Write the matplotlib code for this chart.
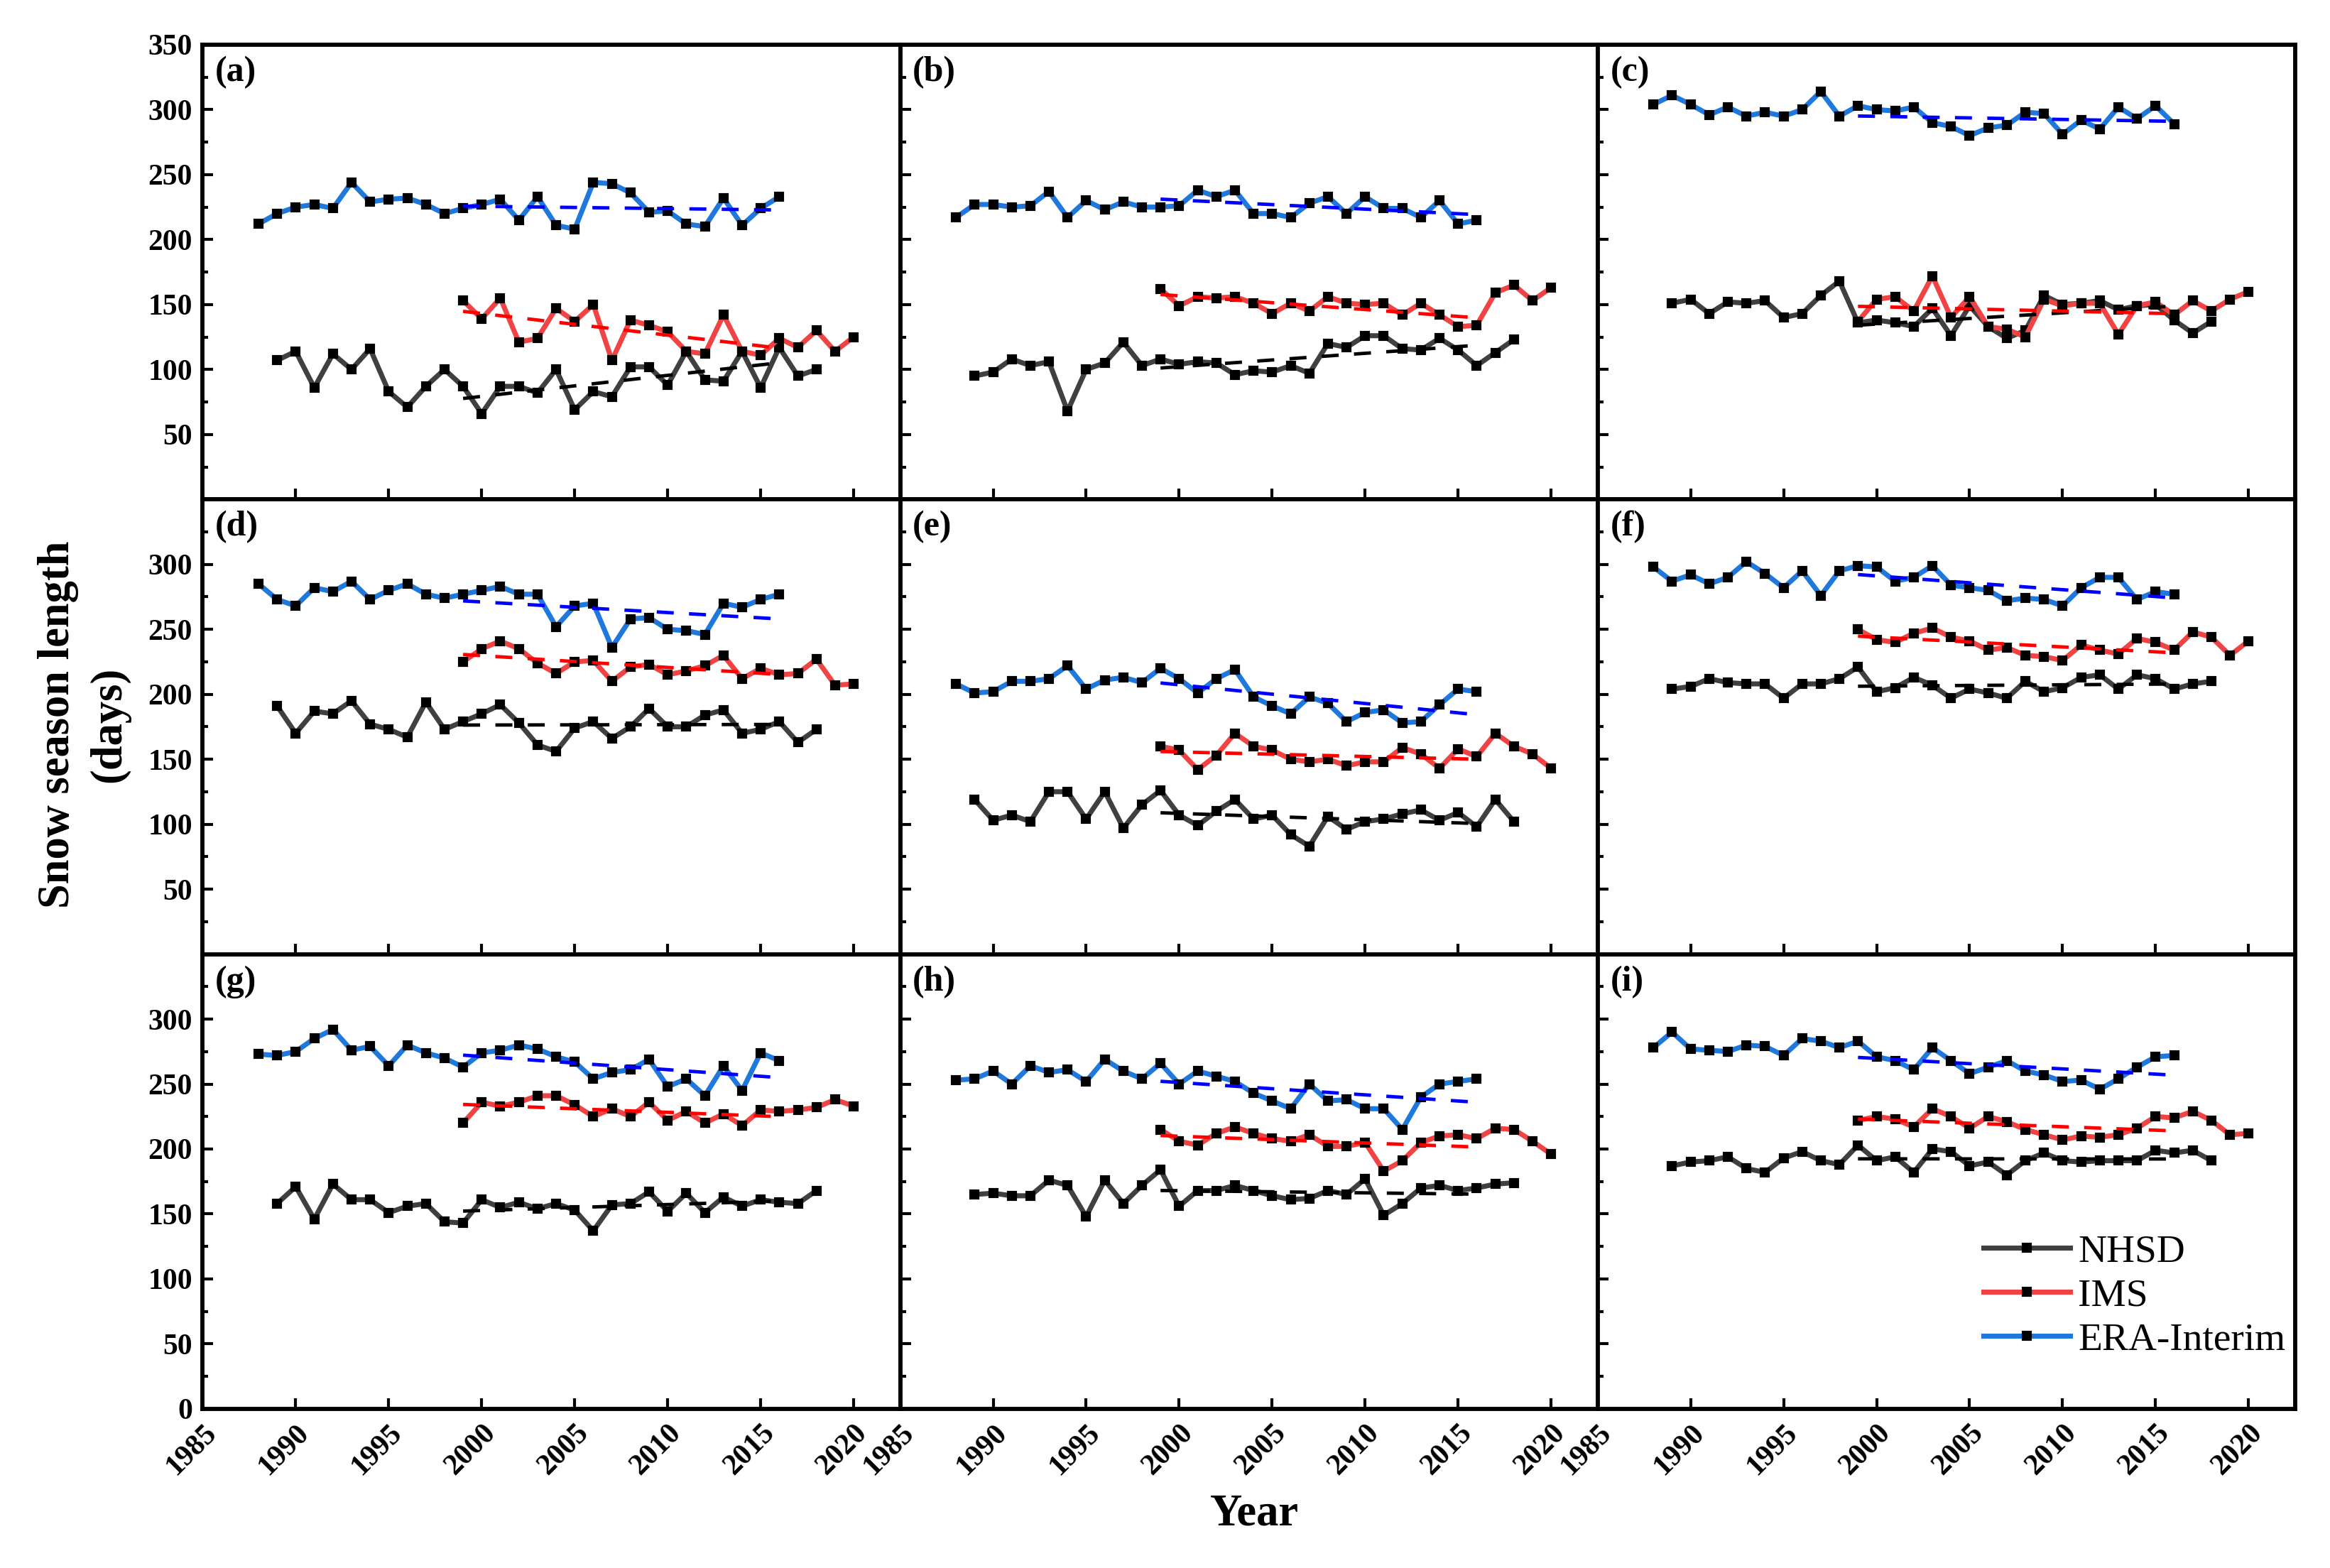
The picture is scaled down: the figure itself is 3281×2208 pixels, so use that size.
import numpy as np
import matplotlib
matplotlib.use('Agg')
import matplotlib.pyplot as plt
from matplotlib.ticker import MultipleLocator

plt.rcParams['font.family'] = ['Liberation Serif', 'DejaVu Serif']

# years covered by each product
years_nhsd = np.arange(1989, 2019)
years_ims = np.arange(1999, 2021)
years_era = np.arange(1988, 2017)

# snow season length (days)
nhsd_a = [107, 114, 86, 112, 100, 116, 83, 71, 87, 100, 87, 66, 87, 87, 82, 100, 69, 83, 79, 102,
          102, 88, 114, 92, 91, 114, 86, 117, 95, 100]
ims_a = [153, 139, 155, 121, 124, 147, 137, 150, 107, 138, 134, 129, 114, 112, 142, 114, 111, 124,
         117, 130, 114, 125]
era_a = [212, 220, 225, 227, 224, 244, 229, 231, 232, 227, 220, 224, 227, 231, 215, 233, 211, 208,
         244, 243, 236, 221, 222, 212, 210, 232, 211, 224, 233]

nhsd_b = [95, 98, 108, 103, 106, 68, 100, 105, 121, 103, 108, 104, 106, 105, 96, 99, 98, 103, 97, 120,
          117, 126, 126, 116, 115, 124, 115, 103, 113, 123]
ims_b = [162, 149, 156, 155, 156, 151, 143, 151, 145, 156, 151, 150, 151, 142, 151, 142, 133, 134,
         159, 165, 153, 163]
era_b = [217, 227, 227, 225, 226, 237, 217, 230, 223, 229, 225, 225, 226, 238, 233, 238, 220, 220,
         217, 228, 233, 220, 233, 224, 224, 217, 230, 212, 215]

nhsd_c = [151, 154, 143, 152, 151, 153, 140, 143, 157, 168, 136, 138, 136, 133, 147, 126, 149, 133,
          124, 130, 157, 150, 151, 153, 146, 149, 150, 138, 128, 137]
ims_c = [137, 154, 156, 145, 172, 140, 156, 133, 131, 125, 154, 149, 151, 151, 127, 149, 152, 142,
         153, 145, 154, 160]
era_c = [304, 311, 304, 296, 302, 295, 298, 295, 300, 314, 295, 303, 300, 299, 302, 290, 287, 280,
         286, 288, 298, 297, 281, 292, 285, 302, 293, 303, 289]

nhsd_d = [191, 170, 187, 185, 195, 177, 173, 167, 194, 173, 179, 185, 192, 178, 161, 156, 174, 179,
          166, 175, 189, 175, 175, 184, 188, 170, 173, 179, 163, 173]
ims_d = [225, 235, 241, 235, 224, 216, 225, 226, 210, 221, 223, 215, 218, 222, 230, 212, 220, 215,
         216, 227, 207, 208]
era_d = [285, 273, 268, 282, 279, 287, 273, 280, 285, 277, 274, 277, 280, 283, 277, 277, 252, 268,
         270, 236, 258, 259, 250, 249, 246, 270, 267, 273, 277]

nhsd_e = [119, 103, 107, 102, 125, 125, 104, 125, 97, 115, 126, 107, 99, 110, 119, 104, 107, 92, 83,
          106, 96, 102, 104, 108, 111, 103, 109, 98, 119, 102]
ims_e = [160, 157, 142, 153, 170, 160, 157, 150, 148, 150, 145, 148, 148, 159, 154, 143, 158, 152,
         170, 160, 154, 143]
era_e = [208, 201, 202, 210, 210, 212, 222, 204, 211, 213, 209, 220, 212, 201, 212, 219, 198, 191,
         185, 198, 193, 179, 186, 188, 178, 179, 192, 204, 202]

nhsd_f = [204, 206, 212, 209, 208, 208, 197, 208, 208, 212, 221, 202, 205, 213, 207, 197, 204, 201,
          197, 210, 202, 205, 213, 215, 204, 215, 212, 204, 208, 210]
ims_f = [250, 242, 240, 247, 251, 244, 241, 234, 236, 230, 229, 226, 238, 234, 231, 243, 240, 234,
         248, 244, 230, 241]
era_f = [298, 287, 292, 285, 290, 302, 293, 282, 295, 276, 295, 299, 298, 287, 290, 299, 284, 282,
         280, 272, 274, 273, 268, 282, 290, 290, 273, 279, 277]

nhsd_g = [158, 171, 146, 173, 161, 161, 151, 156, 158, 144, 143, 161, 155, 159, 154, 158, 153, 137,
          157, 158, 167, 152, 166, 151, 163, 156, 161, 159, 158, 168]
ims_g = [220, 236, 233, 236, 241, 241, 234, 225, 231, 225, 236, 222, 229, 220, 227, 218, 230, 229,
         230, 232, 238, 233]
era_g = [273, 272, 275, 285, 292, 276, 279, 264, 280, 274, 270, 263, 274, 276, 280, 277, 271, 267,
         254, 259, 261, 269, 248, 254, 241, 264, 245, 274, 268]

nhsd_h = [165, 166, 164, 164, 176, 172, 148, 176, 158, 172, 184, 156, 168, 168, 172, 168, 164, 161,
          162, 168, 165, 177, 149, 158, 170, 172, 168, 170, 173, 174]
ims_h = [215, 206, 203, 212, 217, 212, 208, 206, 211, 202, 202, 205, 183, 191, 205, 210, 211, 208,
         216, 215, 206, 196]
era_h = [253, 254, 260, 250, 264, 259, 261, 252, 269, 260, 254, 266, 250, 260, 256, 252, 243, 237,
         231, 250, 237, 238, 231, 231, 215, 240, 250, 252, 254]

nhsd_i = [187, 190, 191, 194, 185, 182, 193, 198, 191, 188, 203, 191, 194, 182, 200, 198, 187, 190,
          180, 191, 197, 191, 190, 191, 191, 191, 199, 197, 199, 191]
ims_i = [222, 225, 223, 217, 231, 225, 216, 225, 221, 215, 211, 207, 210, 209, 211, 216, 225, 224,
         229, 222, 211, 212]
era_i = [278, 290, 277, 276, 275, 280, 279, 272, 285, 283, 278, 283, 271, 268, 261, 278, 268, 258,
         263, 268, 260, 257, 252, 253, 246, 254, 263, 271, 272]

panel_labels = ['(a)', '(b)', '(c)', '(d)', '(e)', '(f)', '(g)', '(h)', '(i)']
nhsd_all = [nhsd_a, nhsd_b, nhsd_c, nhsd_d, nhsd_e, nhsd_f, nhsd_g, nhsd_h, nhsd_i]
ims_all = [ims_a, ims_b, ims_c, ims_d, ims_e, ims_f, ims_g, ims_h, ims_i]
era_all = [era_a, era_b, era_c, era_d, era_e, era_f, era_g, era_h, era_i]

# common period used for the trend lines
trend_start, trend_end = 1999, 2016

c_nhsd, c_ims, c_era = '#404040', '#f04444', '#1f78dc'
t_nhsd, t_ims, t_era = 'black', 'red', 'blue'


def trend(ax, years, vals, color):
    years = np.asarray(years)
    vals = np.asarray(vals, dtype=float)
    m = (years >= trend_start) & (years <= trend_end)
    k, b = np.polyfit(years[m], vals[m], 1)
    xs = np.array([trend_start, trend_end])
    ax.plot(xs, k * xs + b, color=color, lw=1.15, dashes=(5, 4.5), zorder=5)


fig = plt.figure(figsize=(3281 / 300, 2208 / 300), dpi=300)
gs = fig.add_gridspec(3, 3, left=0.087, right=0.985, top=0.9715, bottom=0.1015,
                      wspace=0, hspace=0)

line_kw = dict(lw=1.7, marker='s', ms=2.3, mfc='black', mec='black')

for i in range(9):
    row, col = divmod(i, 3)
    ax = fig.add_subplot(gs[row, col])

    ax.plot(years_nhsd, nhsd_all[i], color=c_nhsd, label='NHSD', **line_kw)
    ax.plot(years_ims, ims_all[i], color=c_ims, label='IMS', **line_kw)
    ax.plot(years_era, era_all[i], color=c_era, label='ERA-Interim', **line_kw)

    trend(ax, years_nhsd, nhsd_all[i], t_nhsd)
    trend(ax, years_ims, ims_all[i], t_ims)
    trend(ax, years_era, era_all[i], t_era)

    ax.set_xlim(1985, 2022.5)
    ax.set_ylim(0, 350)
    ax.set_xticks(np.arange(1985, 2021, 5))
    ax.set_yticks(np.arange(0, 351, 50))
    ax.yaxis.set_minor_locator(MultipleLocator(25))
    ax.tick_params(which='both', direction='in', top=False, right=False, width=1.0)
    ax.tick_params(which='major', length=3.5)
    ax.tick_params(which='minor', length=2.0)
    for s in ax.spines.values():
        s.set_linewidth(1.4)

    if col == 0:
        labels = []
        for v in range(0, 351, 50):
            hide = (v == 0 and row < 2) or (v == 350 and row > 0)
            labels.append('' if hide else str(v))
        ax.set_yticklabels(labels, fontsize=10, fontweight='bold')
    else:
        ax.set_yticklabels([])

    if row == 2:
        ax.set_xticklabels([str(y) for y in range(1985, 2021, 5)], rotation=45,
                           ha='right', rotation_mode='anchor', fontsize=10, fontweight='bold')
    else:
        ax.set_xticklabels([])

    ax.text(0.018, 0.975, panel_labels[i], transform=ax.transAxes, ha='left', va='top',
            fontsize=12, fontweight='bold')

    if i == 8:
        ax.legend(loc='lower right', bbox_to_anchor=(1.02, 0.06), frameon=False, fontsize=13.3,
                  handlelength=2.2, handletextpad=0.2, labelspacing=0.2, borderaxespad=0.2)

fig.text(0.036, 0.538, 'Snow season length\n(days)', rotation=90, ha='center', va='center',
         fontsize=15, fontweight='bold', linespacing=1.3)
fig.text(0.5385, 0.034, 'Year', ha='center', va='center', fontsize=15, fontweight='bold')

fig.savefig('out.png', dpi=300)
